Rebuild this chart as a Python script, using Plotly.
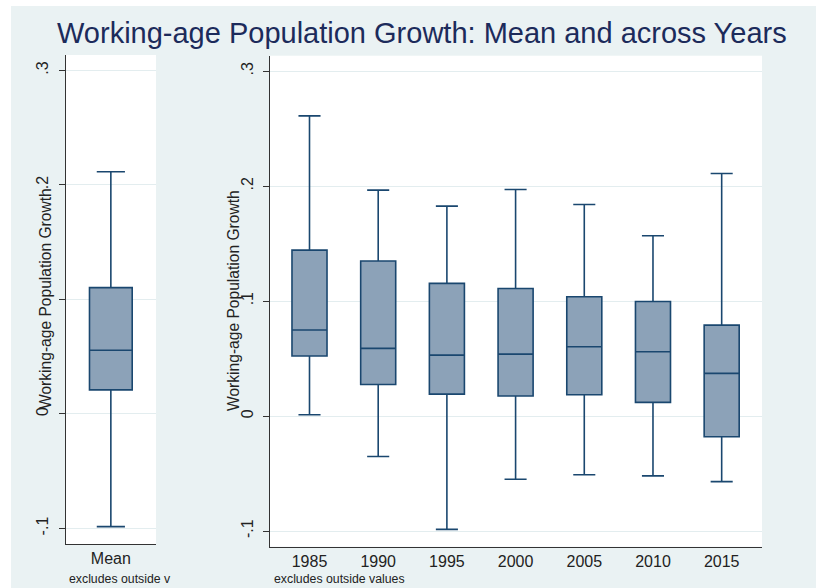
import plotly.graph_objects as go

# ---- data ----
mean_cat = ["Mean"]
mean_lower = [-0.0984]
mean_q1 = [0.0210]
mean_median = [0.0556]
mean_q3 = [0.1103]
mean_upper = [0.2114]

years = ["1985", "1990", "1995", "2000", "2005", "2010", "2015"]
yr_lower = [0.0011, -0.0351, -0.0985, -0.0550, -0.0510, -0.0520, -0.0570]
yr_q1 = [0.0522, 0.0275, 0.0191, 0.0174, 0.0186, 0.0119, -0.0180]
yr_median = [0.0748, 0.0589, 0.0530, 0.0539, 0.0603, 0.0559, 0.0371]
yr_q3 = [0.1443, 0.1348, 0.1154, 0.1110, 0.1038, 0.0997, 0.0791]
yr_upper = [0.2611, 0.1965, 0.1826, 0.1970, 0.1840, 0.1568, 0.2110]

ytick_vals = [-0.1, 0, 0.1, 0.2, 0.3]
ytick_text_right = ["-.1", "0", ".1", ".2", ".3"]
ytick_text_left = ["-.1", "0", "", ".2", ".3"]

title_text = "Working-age Population Growth: Mean and across Years"
ytitle = "Working-age Population Growth"
note_right = "excludes outside values"
note_left = "excludes outside v"

# ---- style ----
W, H = 816, 588
BG = "#EAF2F3"
FILL = "#8CA2B8"
LINE = "#1A476F"
GRID = "#E3EDEF"
FONT = "Liberation Sans, Arial, sans-serif"

def px_x(p):
    return p / W

def px_y(p):
    return 1 - p / H

fig = go.Figure()

fig.add_trace(go.Box(
    x=mean_cat, q1=mean_q1, median=mean_median, q3=mean_q3,
    lowerfence=mean_lower, upperfence=mean_upper,
    xaxis="x", yaxis="y", width=0.473, whiskerwidth=0.66,
    fillcolor=FILL, line=dict(color=LINE, width=1.6),
    boxpoints=False, showlegend=False, hoverinfo="skip",
))

fig.add_trace(go.Box(
    x=years, q1=yr_q1, median=yr_median, q3=yr_q3,
    lowerfence=yr_lower, upperfence=yr_upper,
    xaxis="x2", yaxis="y2", width=0.51, whiskerwidth=0.63,
    fillcolor=FILL, line=dict(color=LINE, width=1.6),
    boxpoints=False, showlegend=False, hoverinfo="skip",
))

yrange = [-0.1136, 0.3134]
common_y = dict(
    range=yrange, tickvals=ytick_vals, tickangle=-90,
    ticks="outside", ticklen=6, tickcolor="#333333",
    showline=True, linecolor="#333333", linewidth=1,
    showgrid=True, gridcolor=GRID, gridwidth=1, zeroline=False,
    tickfont=dict(family=FONT, size=16, color="#222222"),
    ticklabelstandoff=4,
    fixedrange=True,
)
common_x = dict(
    type="category", showline=True, linecolor="#333333", linewidth=1,
    showgrid=False, zeroline=False, ticks="",
    tickfont=dict(family=FONT, size=16, color="#222222"),
    fixedrange=True,
)

fig.update_layout(
    width=W, height=H,
    margin=dict(l=0, r=0, t=0, b=0),
    paper_bgcolor=BG, plot_bgcolor="white",
    font=dict(family=FONT),
    xaxis=dict(domain=[px_x(65.7), px_x(156)], range=[-0.5, 0.5], anchor="y", **common_x),
    yaxis=dict(domain=[px_y(544), px_y(55)], anchor="x", ticktext=ytick_text_left, **common_y),
    xaxis2=dict(domain=[px_x(270), px_x(762)], range=[-0.575, 6.587], anchor="y2", **common_x),
    yaxis2=dict(domain=[px_y(546.7), px_y(55.7)], anchor="x2", ticktext=ytick_text_right, **common_y),
    shapes=[
        dict(type="rect", xref="paper", yref="paper", x0=0, x1=1, y0=px_y(6), y1=1,
             fillcolor="white", line=dict(width=0), layer="below"),
        dict(type="rect", xref="paper", yref="paper", x0=0, x1=px_x(11), y0=0, y1=1,
             fillcolor="white", line=dict(width=0), layer="below"),
    ],
    annotations=[
        dict(text=title_text, x=px_x(421.5), y=px_y(33), xref="paper", yref="paper",
             showarrow=False, xanchor="center", yanchor="middle",
             font=dict(family=FONT, size=29, color="#1C2B5B")),
        dict(text=ytitle, x=px_x(45), y=px_y(299), xref="paper", yref="paper",
             showarrow=False, xanchor="center", yanchor="middle", textangle=-90,
             font=dict(family=FONT, size=15.6, color="#222222")),
        dict(text=ytitle, x=px_x(233), y=px_y(301), xref="paper", yref="paper",
             showarrow=False, xanchor="center", yanchor="middle", textangle=-90,
             font=dict(family=FONT, size=15.6, color="#222222")),
        dict(text=note_left, x=px_x(67), y=px_y(579), xref="paper", yref="paper",
             showarrow=False, xanchor="left", yanchor="middle",
             font=dict(family=FONT, size=12.3, color="#222222")),
        dict(text=note_right, x=px_x(272), y=px_y(579), xref="paper", yref="paper",
             showarrow=False, xanchor="left", yanchor="middle",
             font=dict(family=FONT, size=12.3, color="#222222")),
    ],
)

fig.write_html("out.html")
